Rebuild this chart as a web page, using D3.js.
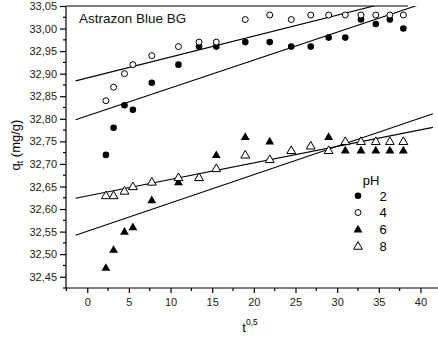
<!DOCTYPE html>
<html lang="en">
<head>
<meta charset="UTF-8">
<title>Astrazon Blue BG</title>
<script src="https://cdn.jsdelivr.net/npm/d3@7"></script>
<style>
body{margin:0;background:#fff;}
svg{display:block;font-family:"Liberation Sans",Arial,sans-serif;}
.axis path,.axis line{stroke:#000;stroke-width:1.2;}
.axis text{font-size:11px;fill:#222;}
</style>
</head>
<body>
<script>
// sqrt(t) values
var tHalf = [2.24,3.16,4.47,5.48,7.75,10.95,13.42,15.49,18.97,21.91,24.49,26.83,28.98,30.98,32.86,34.64,36.33,37.95];
var ph2 = [32.72,32.78,32.83,32.82,32.88,32.92,32.96,32.96,32.97,32.97,32.96,32.96,32.98,32.98,33.02,33.01,33.02,33.00];
var ph4 = [32.84,32.87,32.90,32.92,32.94,32.96,32.97,32.97,33.02,33.03,33.02,33.03,33.03,33.03,33.03,33.03,33.03,33.03];
var ph6 = [32.47,32.51,32.55,32.56,32.62,32.66,32.67,32.72,32.76,32.75,32.73,32.74,32.76,32.73,32.73,32.73,32.73,32.73];
var ph8 = [32.63,32.63,32.64,32.65,32.66,32.67,32.67,32.69,32.72,32.71,32.73,32.74,32.73,32.75,32.75,32.75,32.75,32.75];
// fitted lines, start/end
var fit2 = [[-1.4,32.798],[41.5,33.063]];
var fit4 = [[-1.4,32.884],[41.5,33.083]];
var fit6 = [[-1.4,32.542],[41.5,32.811]];
var fit8 = [[-1.4,32.624],[41.5,32.781]];
var xTicks = [0,5,10,15,20,25,30,35,40];
var yTicks = [32.45,32.50,32.55,32.60,32.65,32.70,32.75,32.80,32.85,32.90,32.95,33.00,33.05];
var legendLabels = ["2","4","6","8"];

var width = 438, height = 344;
var svg = d3.select("body").append("svg").attr("width",width).attr("height",height);

var pLeft = 66, pTop = 6, pBottom = 288;
var xScale = d3.scaleLinear().domain([-2.55,42.5]).range([pLeft,pLeft+45.05*8.33]);
var yScale = d3.scaleLinear().domain([32.425,33.05]).range([pBottom,pTop]);

var comma = function(d){return d3.format(".2f")(d).replace(".",",");};

// x axis
var xAxis = d3.axisBottom(xScale).tickValues(xTicks).tickSize(5).tickPadding(5).tickFormat(d3.format("d"));
var gx = svg.append("g").attr("class","axis").attr("transform","translate(0,"+pBottom+")").call(xAxis);
gx.select(".domain").attr("d","M"+pLeft+",0H"+width);
var xMinor = d3.range(-2.5,43,5);
gx.selectAll(".minor").data(xMinor).enter().append("line").attr("class","minor")
	.attr("x1",function(d){return xScale(d);}).attr("x2",function(d){return xScale(d);})
	.attr("y1",0).attr("y2",3).attr("stroke","#000").attr("stroke-width",1.2);

// y axis
var yAxis = d3.axisLeft(yScale).tickValues(yTicks).tickSize(6).tickPadding(3).tickFormat(comma);
var gy = svg.append("g").attr("class","axis").attr("transform","translate("+pLeft+",0)").call(yAxis);
gy.select(".domain").attr("d","M0,"+pTop+"V"+pBottom);
var yMinor = yTicks.map(function(d){return d-0.025;});
gy.selectAll(".minor").data(yMinor).enter().append("line").attr("class","minor")
	.attr("y1",function(d){return yScale(d);}).attr("y2",function(d){return yScale(d);})
	.attr("x1",0).attr("x2",-3).attr("stroke","#000").attr("stroke-width",1.2);

// top frame line
svg.append("line").attr("x1",pLeft).attr("x2",xScale(38.5)).attr("y1",pTop).attr("y2",pTop)
	.attr("stroke","#000").attr("stroke-width",1.2);

// clip
svg.append("clipPath").attr("id","plot").append("rect")
	.attr("x",pLeft).attr("y",pTop).attr("width",width-pLeft).attr("height",pBottom-pTop);
var plot = svg.append("g").attr("clip-path","url(#plot)");

var line = d3.line().x(function(d){return xScale(d[0]);}).y(function(d){return yScale(d[1]);});
[fit2,fit4,fit6,fit8].forEach(function(f){
	plot.append("path").attr("d",line(f)).attr("fill","none").attr("stroke","#000").attr("stroke-width",1.1);
});

// markers
var triangle = d3.symbol().type(d3.symbolTriangle).size(34);
var series = [
	{vals:ph2, shape:"circle", fill:"#000"},
	{vals:ph4, shape:"circle", fill:"#fff"},
	{vals:ph6, shape:"tri", fill:"#000"},
	{vals:ph8, shape:"tri", fill:"#fff"}
];
function drawMark(g,s,x,y){
	if(s.shape=="circle"){
		g.append("circle").attr("cx",x).attr("cy",y).attr("r",s.fill=="#000"?3.3:3)
			.attr("fill",s.fill).attr("stroke","#000").attr("stroke-width",s.fill=="#000"?0:1);
	}else{
		g.append("path").attr("d",triangle).attr("transform","translate("+x+","+(y+0.6)+")")
			.attr("fill",s.fill).attr("stroke","#000").attr("stroke-width",s.fill=="#000"?0:1);
	}
}
series.forEach(function(s){
	var g = plot.append("g");
	tHalf.forEach(function(t,i){ drawMark(g,s,xScale(t),yScale(s.vals[i])); });
});

// title
svg.append("text").attr("x",79).attr("y",23).attr("font-size","13.5px").attr("fill","#111").text("Astrazon Blue BG");

// legend
var lg = svg.append("g");
lg.append("text").attr("x",371).attr("y",185).attr("font-size","13px").attr("text-anchor","middle").text("pH");
series.forEach(function(s,i){
	var y = 195.7+i*16.8;
	drawMark(lg,s,358,y);
	lg.append("text").attr("x",383).attr("y",y+4.8).attr("font-size","13px").attr("text-anchor","middle").text(legendLabels[i]);
});

// axis titles
var xt = svg.append("text").attr("x",250).attr("y",332).attr("font-size","13px").attr("text-anchor","middle");
xt.append("tspan").text("t");
xt.append("tspan").attr("font-size","8.5px").attr("dy",-7).text("0,5");

var yt = svg.append("text").attr("transform","translate(20,145) rotate(-90)").attr("font-size","13px").attr("text-anchor","middle");
yt.append("tspan").text("q");
yt.append("tspan").attr("font-size","8.5px").attr("dy",3).text("t");
yt.append("tspan").attr("dy",-3).text(" (mg/g)");
</script>
</body>
</html>
